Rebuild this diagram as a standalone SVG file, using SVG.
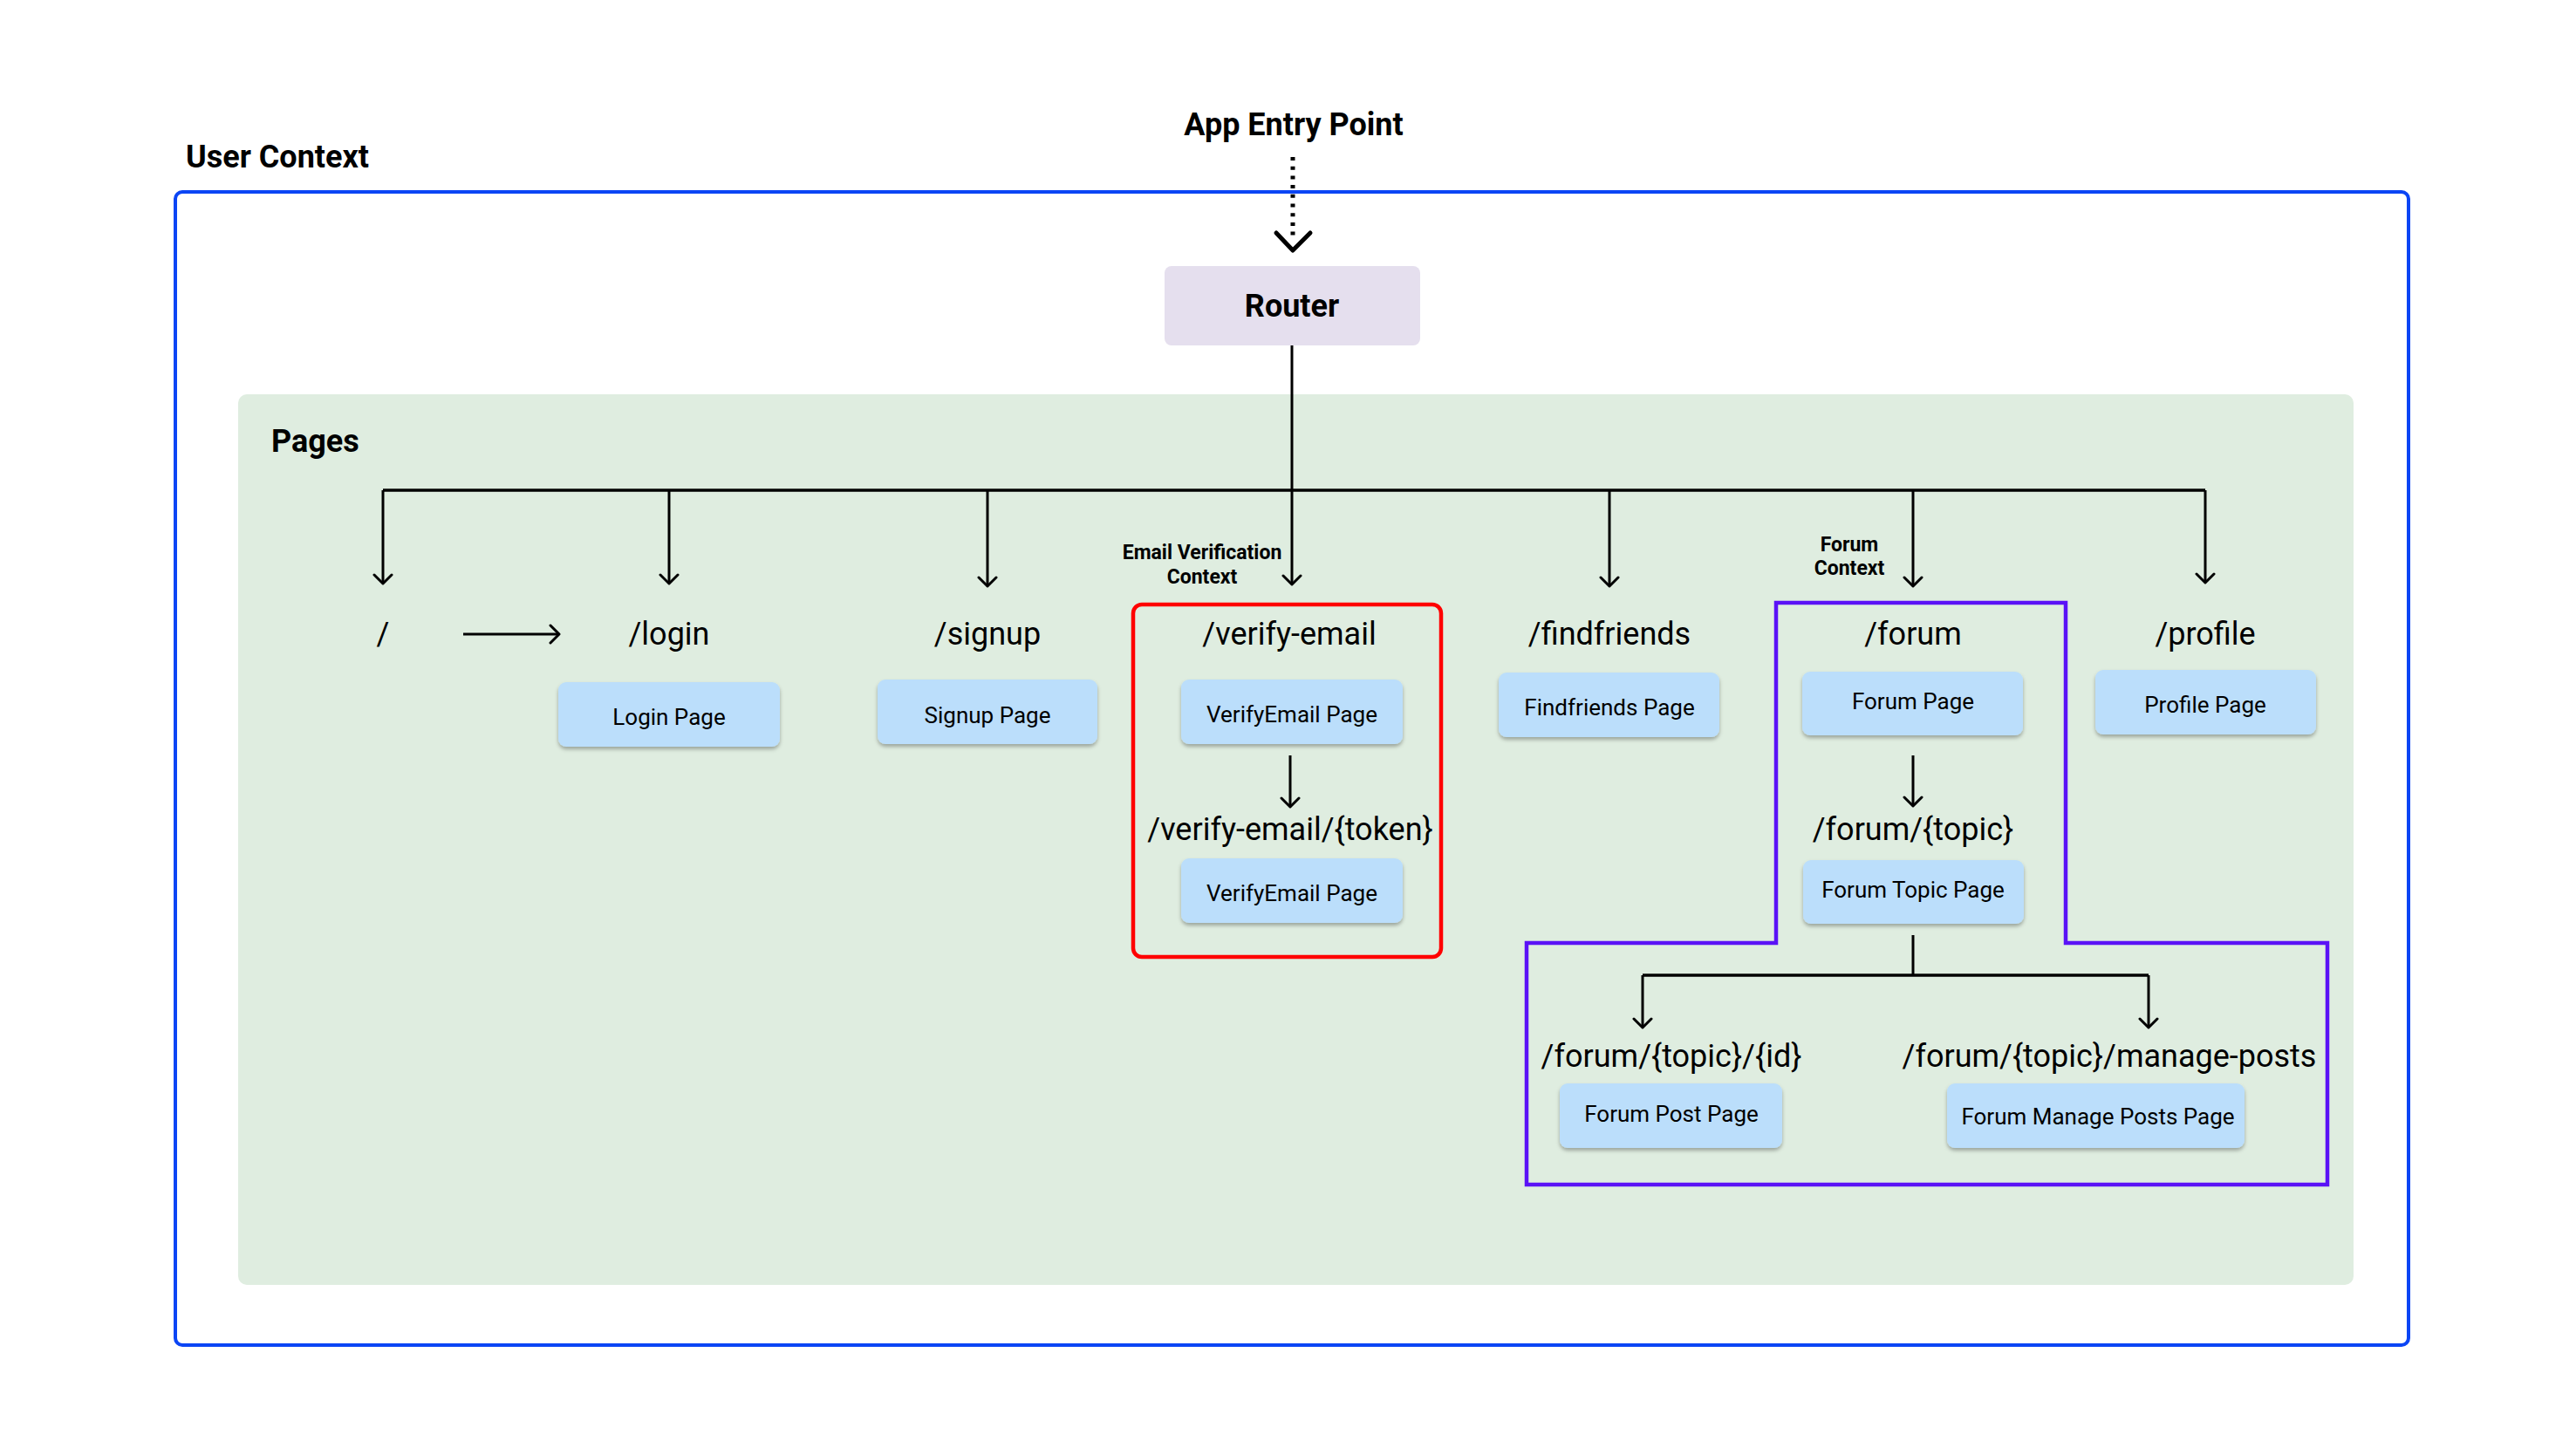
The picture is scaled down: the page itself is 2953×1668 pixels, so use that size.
<svg xmlns="http://www.w3.org/2000/svg" width="2953" height="1668" viewBox="0 0 2953 1668">
  <style>
    .bold { font-family: Roboto, "Liberation Sans", sans-serif; font-weight: bold; fill: #000; }
    .title { font-size: 36px; }
    .route { font-family: Roboto, "Liberation Sans", sans-serif; font-size: 36px; fill: #000; text-anchor: middle; }
    .ptext { font-family: Roboto, "Liberation Sans", sans-serif; font-size: 26px; fill: #000; text-anchor: middle; }
    .ctx { font-size: 23px; text-anchor: middle; }
    .page { fill: #bbdefb; filter: url(#shadow); }
    .conn { stroke: #000; stroke-width: 3; fill: none; }
    .bar { stroke: #000; stroke-width: 3.5; fill: none; }
    .arr { marker-end: url(#head); }
  </style>
  <defs>
    <filter id="shadow" x="-10%" y="-20%" width="120%" height="150%">
      <feDropShadow dx="0" dy="3" stdDeviation="2" flood-color="#000" flood-opacity="0.3"/>
    </filter>
    <marker id="head" markerUnits="userSpaceOnUse" viewBox="0 0 14 24" refX="12" refY="12" markerWidth="14" markerHeight="24" orient="auto">
      <path d="M2,2 L12,12 L2,22" fill="none" stroke="#000" stroke-width="3" stroke-linecap="round" stroke-linejoin="round"/>
    </marker>
  </defs>

  <rect width="2953" height="1668" fill="#ffffff"/>

  <g id="user-context">
    <rect x="201" y="220" width="2560" height="1322" rx="8" fill="none" stroke="#0b45f5" stroke-width="4"/>
    <text class="bold title" x="213" y="192">User Context</text>
  </g>

  <g id="pages">
    <rect x="273" y="452" width="2425" height="1021" rx="10" fill="#dfede0"/>
    <text class="bold title" x="311" y="518" font-size="35">Pages</text>
  </g>

  <g id="app-entry">
    <text class="bold title" x="1483" y="155" text-anchor="middle" font-size="37">App Entry Point</text>
  </g>

  <g id="router">
    <rect x="1335" y="305" width="293" height="91" rx="8" fill="#e5dfee"/>
    <text class="bold title" x="1481" y="363" text-anchor="middle">Router</text>
  </g>

  <g id="email-context">
    <rect x="1299" y="693" width="353" height="404" rx="10" fill="none" stroke="#ff0000" stroke-width="4.5"/>
    <text class="bold ctx" x="1378" y="641">Email Verification</text>
    <text class="bold ctx" x="1378" y="669">Context</text>
  </g>

  <g id="forum-context">
    <path d="M2036,691 L2368,691 L2368,1081 L2668,1081 L2668,1358 L1750,1358 L1750,1081 L2036,1081 Z" fill="none" stroke="#5a12f6" stroke-width="4.5"/>
    <text class="bold ctx" x="2120" y="632">Forum</text>
    <text class="bold ctx" x="2120" y="659">Context</text>
  </g>

  <g id="root-route">
    <text class="route" x="439" y="739">/</text>
  </g>

  <g id="login">
    <text class="route" x="767" y="739">/login</text>
    <rect class="page" x="640" y="782" width="254" height="74" rx="9"/>
    <text class="ptext" x="767" y="831">Login Page</text>
  </g>

  <g id="signup">
    <text class="route" x="1132" y="739">/signup</text>
    <rect class="page" x="1006" y="779" width="252" height="74" rx="9"/>
    <text class="ptext" x="1132" y="829">Signup Page</text>
  </g>

  <g id="verify-email">
    <text class="route" x="1478" y="739">/verify-email</text>
    <rect class="page" x="1354" y="779" width="254" height="74" rx="9"/>
    <text class="ptext" x="1481" y="828">VerifyEmail Page</text>
  </g>

  <g id="verify-email-token">
    <text class="route" x="1479" y="963">/verify-email/{token}</text>
    <rect class="page" x="1354" y="984" width="254" height="74" rx="9"/>
    <text class="ptext" x="1481" y="1033">VerifyEmail Page</text>
  </g>

  <g id="findfriends">
    <text class="route" x="1845" y="739">/findfriends</text>
    <rect class="page" x="1718" y="771" width="253" height="74" rx="9"/>
    <text class="ptext" x="1845" y="820">Findfriends Page</text>
  </g>

  <g id="forum">
    <text class="route" x="2193" y="739">/forum</text>
    <rect class="page" x="2066" y="770" width="253" height="73" rx="9"/>
    <text class="ptext" x="2193" y="813">Forum Page</text>
  </g>

  <g id="profile">
    <text class="route" x="2528" y="739">/profile</text>
    <rect class="page" x="2402" y="768" width="253" height="74" rx="9"/>
    <text class="ptext" x="2528" y="817">Profile Page</text>
  </g>

  <g id="forum-topic">
    <text class="route" x="2193" y="963">/forum/{topic}</text>
    <rect class="page" x="2067" y="986" width="253" height="73" rx="9"/>
    <text class="ptext" x="2193" y="1029">Forum Topic Page</text>
  </g>

  <g id="forum-post">
    <text class="route" x="1916" y="1223">/forum/{topic}/{id}</text>
    <rect class="page" x="1788" y="1242" width="255" height="74" rx="9"/>
    <text class="ptext" x="1916" y="1286">Forum Post Page</text>
  </g>

  <g id="forum-manage-posts">
    <text class="route" x="2418" y="1223">/forum/{topic}/manage-posts</text>
    <rect class="page" x="2232" y="1242" width="341" height="74" rx="9"/>
    <text class="ptext" x="2405" y="1289">Forum Manage Posts Page</text>
  </g>

  <g id="connectors">
    <line x1="1482" y1="180" x2="1482" y2="274" stroke="#000" stroke-width="5" stroke-dasharray="4 6.7"/>
    <path d="M1463,267 L1482,287 L1502,267" fill="none" stroke="#000" stroke-width="5" stroke-linecap="round" stroke-linejoin="round"/>
    <line class="conn" x1="1481" y1="396" x2="1481" y2="562" stroke-width="2.5"/>
    <line class="bar" x1="439" y1="562" x2="2528" y2="562"/>
    <line class="conn arr" x1="439" y1="562" x2="439" y2="669"/>
    <line class="conn arr" x1="767" y1="562" x2="767" y2="669"/>
    <line class="conn arr" x1="1132" y1="562" x2="1132" y2="672"/>
    <line class="conn arr" x1="1481" y1="562" x2="1481" y2="670"/>
    <line class="conn arr" x1="1845" y1="562" x2="1845" y2="672"/>
    <line class="conn arr" x1="2193" y1="562" x2="2193" y2="672"/>
    <line class="conn arr" x1="2528" y1="562" x2="2528" y2="668"/>
    <line class="conn arr" x1="531" y1="727" x2="641" y2="727"/>
    <line class="conn arr" x1="1479" y1="866" x2="1479" y2="925"/>
    <line class="conn arr" x1="2193" y1="866" x2="2193" y2="924"/>
    <line class="conn" x1="2193" y1="1072" x2="2193" y2="1118"/>
    <line class="bar" x1="1883" y1="1118" x2="2463" y2="1118"/>
    <line class="conn arr" x1="1883" y1="1118" x2="1883" y2="1178"/>
    <line class="conn arr" x1="2463" y1="1118" x2="2463" y2="1178"/>
  </g>
</svg>
